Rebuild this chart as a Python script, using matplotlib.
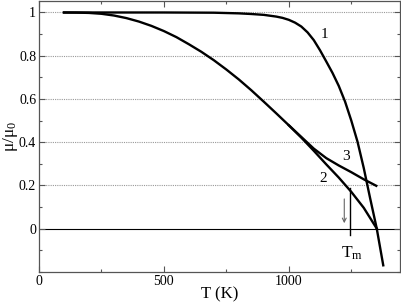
import numpy as np
import matplotlib
matplotlib.use('Agg')
import matplotlib.pyplot as plt
from matplotlib.ticker import MultipleLocator

plt.rcParams['font.family'] = ['Liberation Serif', 'DejaVu Serif']
plt.rcParams['mathtext.fontset'] = 'custom'
plt.rcParams['mathtext.rm'] = 'Liberation Serif'
plt.rcParams['mathtext.it'] = 'Liberation Serif'

# curve 1
T1 = [100, 500, 700, 800, 850, 900, 950, 975, 1000, 1025, 1050, 1075, 1100,
      1125, 1150, 1175, 1200, 1225, 1250, 1275, 1300, 1325, 1352, 1378]
mu1 = [1.0, 1.0, 0.999, 0.996, 0.993, 0.989, 0.981, 0.975, 0.966, 0.953,
       0.935, 0.908, 0.872, 0.825, 0.773, 0.72, 0.66, 0.588, 0.50, 0.402,
       0.28, 0.143, 0.0, -0.17]

# curve 2
T2 = [100, 150, 200, 250, 300, 350, 400, 450, 500, 550, 600, 650, 700, 750,
      800, 850, 900, 950, 1000, 1050, 1100, 1150, 1200, 1250, 1300, 1352]
mu2 = [1.0, 0.9995, 0.998, 0.994, 0.986, 0.974, 0.958, 0.938, 0.914, 0.886,
       0.853, 0.818, 0.779, 0.736, 0.69, 0.64, 0.587, 0.533, 0.478, 0.421,
       0.36, 0.297, 0.236, 0.17, 0.096, 0.0]

# curve 3 (splits from curve 2 near 1050 K)
T3 = [1000, 1050, 1100, 1150, 1200, 1250, 1300, 1350]
mu3 = [0.478, 0.424, 0.37, 0.326, 0.292, 0.261, 0.228, 0.198]

curve_labels = ['1', '2', '3']
label_T = [1144, 1136, 1230]
label_mu = [0.90, 0.232, 0.335]

T_m = 1245

fig = plt.figure(figsize=(4.02, 3.02), dpi=100)
ax = fig.add_axes([0.097, 0.1, 0.898, 0.898])

for yg in [0.2, 0.4, 0.6, 0.8, 1.0]:
    ax.axhline(yg, color='#999999', lw=0.8, ls=(0, (1, 1)), zorder=1)
ax.axhline(0, color='black', lw=0.8, zorder=1)

ax.plot(T1, mu1, color='black', lw=1.7, zorder=3)
ax.plot(T2, mu2, color='black', lw=1.7, zorder=3)
ax.plot(T3, mu3, color='black', lw=1.7, zorder=3)

for lab, tx, ty in zip(curve_labels, label_T, label_mu):
    ax.text(tx, ty, lab, fontsize=11, ha='center', va='center')

# melting temperature marker
ax.plot([T_m, T_m], [0.186, -0.03], color='black', lw=1.0, zorder=3)
ax.annotate('', xy=(1222, 0.012), xytext=(1222, 0.15),
            arrowprops=dict(arrowstyle='->', color='#666666', lw=0.8,
                            mutation_scale=7))
ax.text(1254, -0.115, r'T$_\mathrm{m}$', fontsize=12.5, ha='center', va='center')

ax.set_xlim(0, 1445)
ax.set_ylim(-0.2, 1.055)
ax.xaxis.set_major_locator(MultipleLocator(500))
ax.xaxis.set_minor_locator(MultipleLocator(250))
ax.yaxis.set_minor_locator(MultipleLocator(0.1))
ax.set_yticks([0, 0.2, 0.4, 0.6, 0.8, 1.0])
ax.set_yticklabels(['0', '0.2', '0.4', '0.6', '0.8', '1'])
ax.tick_params(which='both', direction='in', top=True, right=True,
               labelsize=10, color='#555555', pad=2)
ax.tick_params(which='major', length=4, width=0.8)
ax.tick_params(which='minor', length=2.5, width=0.8)
for sp in ax.spines.values():
    sp.set_color('#555555')
    sp.set_linewidth(0.9)

ax.set_xlabel('T (K)', fontsize=12, labelpad=-1)
ax.set_ylabel(r'$\mu/\mu_0$', fontsize=12.5)
ax.yaxis.set_label_coords(-0.053, 0.5)

fig.savefig('out.png', dpi=100)
